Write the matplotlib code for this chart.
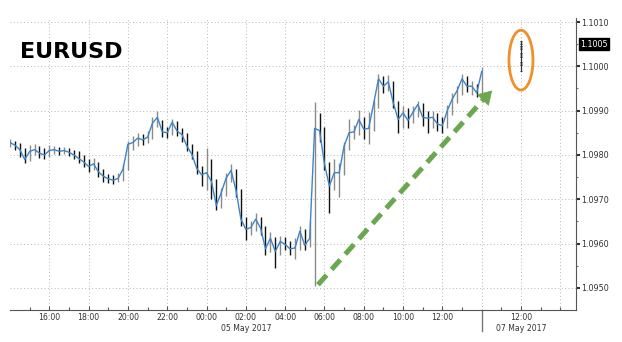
import numpy as np
import matplotlib.pyplot as plt
from matplotlib.patches import Ellipse
from matplotlib.ticker import FixedLocator

# EURUSD 15-minute bars, starting 14:00 on 04 May 2017 (x axis in hours since then)
close = [1.09828, 1.09822, 1.09812, 1.09790, 1.09808, 1.09812, 1.09804, 1.09800,
         1.09810, 1.09812, 1.09808, 1.09810, 1.09806, 1.09800, 1.09792, 1.09784,
         1.09774, 1.09780, 1.09762, 1.09752, 1.09746, 1.09743, 1.09747, 1.09768,
         1.09824, 1.09828, 1.09838, 1.09834, 1.09840, 1.09872, 1.09885, 1.09852,
         1.09850, 1.09874, 1.09854, 1.09846, 1.09820, 1.09802, 1.09770, 1.09755,
         1.09760, 1.09740, 1.09686, 1.09715, 1.09748, 1.09765, 1.09720, 1.09655,
         1.09632, 1.09636, 1.09655, 1.09635, 1.09588, 1.09612, 1.09582, 1.09605,
         1.09598, 1.09588, 1.09590, 1.09628, 1.09596, 1.09612, 1.09860, 1.09855,
         1.09780, 1.09730, 1.09760, 1.09760, 1.09820, 1.09850, 1.09852, 1.09880,
         1.09858, 1.09860, 1.09915, 1.09972, 1.09955, 1.09965, 1.09918, 1.09880,
         1.09895, 1.09878, 1.09896, 1.09914, 1.09885, 1.09883, 1.09885, 1.09870,
         1.09866, 1.09900, 1.09926, 1.09945, 1.09972, 1.09955, 1.09955, 1.09940,
         1.09988]
high = [1.09836, 1.09832, 1.09826, 1.09815, 1.09822, 1.09825, 1.09820, 1.09816,
        1.09822, 1.09820, 1.09818, 1.09818, 1.09815, 1.09812, 1.09808, 1.09800,
        1.09790, 1.09792, 1.09785, 1.09768, 1.09758, 1.09755, 1.09760, 1.09780,
        1.09832, 1.09842, 1.09850, 1.09848, 1.09855, 1.09885, 1.09900, 1.09878,
        1.09862, 1.09882, 1.09876, 1.09860, 1.09850, 1.09825, 1.09808, 1.09775,
        1.09815, 1.09790, 1.09745, 1.09725, 1.09760, 1.09780, 1.09768, 1.09722,
        1.09660, 1.09650, 1.09668, 1.09660, 1.09640, 1.09625, 1.09615, 1.09618,
        1.09615, 1.09605, 1.09612, 1.09640, 1.09632, 1.09650, 1.09920, 1.09895,
        1.09862, 1.09785, 1.09790, 1.09782, 1.09830, 1.09880, 1.09868, 1.09902,
        1.09885, 1.09898, 1.09925, 1.09982, 1.09978, 1.09980, 1.09968, 1.09922,
        1.09910, 1.09905, 1.09910, 1.09922, 1.09918, 1.09900, 1.09900, 1.09895,
        1.09885, 1.09912, 1.09940, 1.09955, 1.09982, 1.09978, 1.09968, 1.09960,
        1.09998]
low = [1.09818, 1.09812, 1.09795, 1.09782, 1.09786, 1.09800, 1.09792, 1.09790,
       1.09796, 1.09802, 1.09800, 1.09802, 1.09798, 1.09790, 1.09782, 1.09772,
       1.09762, 1.09766, 1.09750, 1.09740, 1.09736, 1.09735, 1.09738, 1.09742,
       1.09765, 1.09812, 1.09820, 1.09822, 1.09826, 1.09835, 1.09862, 1.09840,
       1.09838, 1.09845, 1.09842, 1.09830, 1.09808, 1.09790, 1.09758, 1.09730,
       1.09720, 1.09700, 1.09675, 1.09680, 1.09708, 1.09740, 1.09705, 1.09640,
       1.09608, 1.09620, 1.09628, 1.09620, 1.09575, 1.09580, 1.09545, 1.09575,
       1.09585, 1.09575, 1.09565, 1.09585, 1.09585, 1.09592, 1.09505, 1.09830,
       1.09765, 1.09668, 1.09720, 1.09705, 1.09755, 1.09812, 1.09835, 1.09845,
       1.09835, 1.09825, 1.09855, 1.09905, 1.09940, 1.09945, 1.09905, 1.09850,
       1.09860, 1.09860, 1.09872, 1.09885, 1.09865, 1.09850, 1.09860, 1.09855,
       1.09850, 1.09860, 1.09890, 1.09918, 1.09935, 1.09942, 1.09935, 1.09930,
       1.09935]

# Sunday open quotes (07 May, around 12:00 on the compressed axis)
sun_hour = 26.0
sun_quotes = [1.09990, 1.10010, 1.10002, 1.10030, 1.10022, 1.10045, 1.10038, 1.10058, 1.10050]

tick_hours = [2, 4, 6, 8, 10, 12, 14, 16, 18, 20, 22, 26]
tick_labels = ['16:00', '18:00', '20:00', '22:00', '00:00', '02:00', '04:00',
               '06:00', '08:00', '10:00', '12:00', '12:00']
grid_hours = [2, 4, 6, 8, 10, 12, 14, 16, 18, 20, 22, 24, 26, 28]
y_ticks = [1.0950, 1.0960, 1.0970, 1.0980, 1.0990, 1.1000, 1.1010]
last_price = 1.1005

plt.rcParams['font.family'] = 'DejaVu Sans'
fig = plt.figure(figsize=(6.22, 3.42), dpi=100)
ax = fig.add_axes([10 / 622, 1 - 310 / 342, 566 / 622, 292.4 / 342])

t = np.arange(len(close)) * 0.25
opens = [close[0]] + close[:-1]
cols = ['#8a8a8a' if c >= o else '#111111' for o, c in zip(opens, close)]
ax.vlines(t, low, high, colors=cols, lw=1.0, zorder=3)
ax.plot(t, close, color='#3d85c6', lw=1.0, zorder=4)

# sunday ticks
ax.plot([sun_hour] * len(sun_quotes), sun_quotes, color='#333333', lw=0.9,
        marker='_', ms=1.5, mew=0.6, zorder=4)

ax.set_xlim(0, 28.8)
ax.set_ylim(1.0945, 1.1011)

# grid (dotted)
for h in grid_hours:
    ax.axvline(h, color='#b5b5b5', lw=0.7, ls=(0, (1, 2.5)), zorder=1)
for v in y_ticks:
    ax.axhline(v, color='#b5b5b5', lw=0.7, ls=(0, (1, 2.5)), zorder=1)

# axes / spines
for s in ['left', 'top']:
    ax.spines[s].set_visible(False)
ax.spines['bottom'].set_color('#555555')
ax.spines['right'].set_color('#555555')

ax.xaxis.set_major_locator(FixedLocator(tick_hours))
ax.set_xticklabels(tick_labels)
ax.xaxis.set_minor_locator(FixedLocator([1, 3, 5, 7, 9, 11, 13, 15, 17, 19, 21, 23, 25, 27, 28]))
ax.tick_params(axis='x', which='major', direction='in', length=3, width=0.8,
               colors='#555555', labelcolor='#333333', labelsize=5.6, pad=2)
ax.tick_params(axis='x', which='minor', direction='in', length=2, width=0.8, colors='#555555')

ax.yaxis.tick_right()
ax.set_yticks(y_ticks)
ax.set_yticklabels(['%.4f' % v for v in y_ticks])
ax.yaxis.set_minor_locator(FixedLocator([1.0955, 1.0965, 1.0975, 1.0985, 1.0995, 1.1005]))
ax.tick_params(axis='y', which='major', direction='out', length=3, width=1.5,
               colors='#333333', labelsize=5.8, pad=1)
ax.tick_params(axis='y', which='minor', direction='out', length=1.5, width=0.8, colors='#777777')

# date labels and weekend break
xt = ax.get_xaxis_transform()
ax.text(12, -0.064, '05 May 2017', transform=xt, ha='center', va='center',
        fontsize=5.6, color='#333333')
ax.text(26, -0.064, '07 May 2017', transform=xt, ha='center', va='center',
        fontsize=5.6, color='#333333')
ax.plot([24, 24], [0, -0.072], transform=xt, color='#777777', lw=1.0, clip_on=False)

# last price tag
ax.annotate('%.4f' % last_price, xy=(1, last_price), xycoords=('axes fraction', 'data'),
            xytext=(3, 0), textcoords='offset points', ha='left', va='center',
            fontsize=5.8, color='white',
            bbox=dict(boxstyle='square,pad=0.2', fc='black', ec='black'))

# green dashed trend arrow
ax.plot([15.67, 24.1], [1.09507, 1.09926], color='#6aa84f', lw=3.6,
        ls=(0, (2.6, 1.5)), solid_capstyle='butt', zorder=5)
ax.annotate('', xy=(24.63, 1.09950), xytext=(24.0, 1.09921),
            arrowprops=dict(arrowstyle='-|>,head_length=0.9,head_width=0.55',
                            color='#6aa84f', lw=0.5), zorder=6)

# orange circle around sunday open
ax.add_patch(Ellipse((sun_hour, 1.10014), 1.22, 0.00135, fill=False,
                     ec='#f0902a', lw=2, zorder=6))

fig.text(20 / 622, 1 - 52 / 342, 'EURUSD', fontsize=16, fontweight='bold',
         ha='left', va='center', color='black')

fig.savefig('out.png', dpi=100)
